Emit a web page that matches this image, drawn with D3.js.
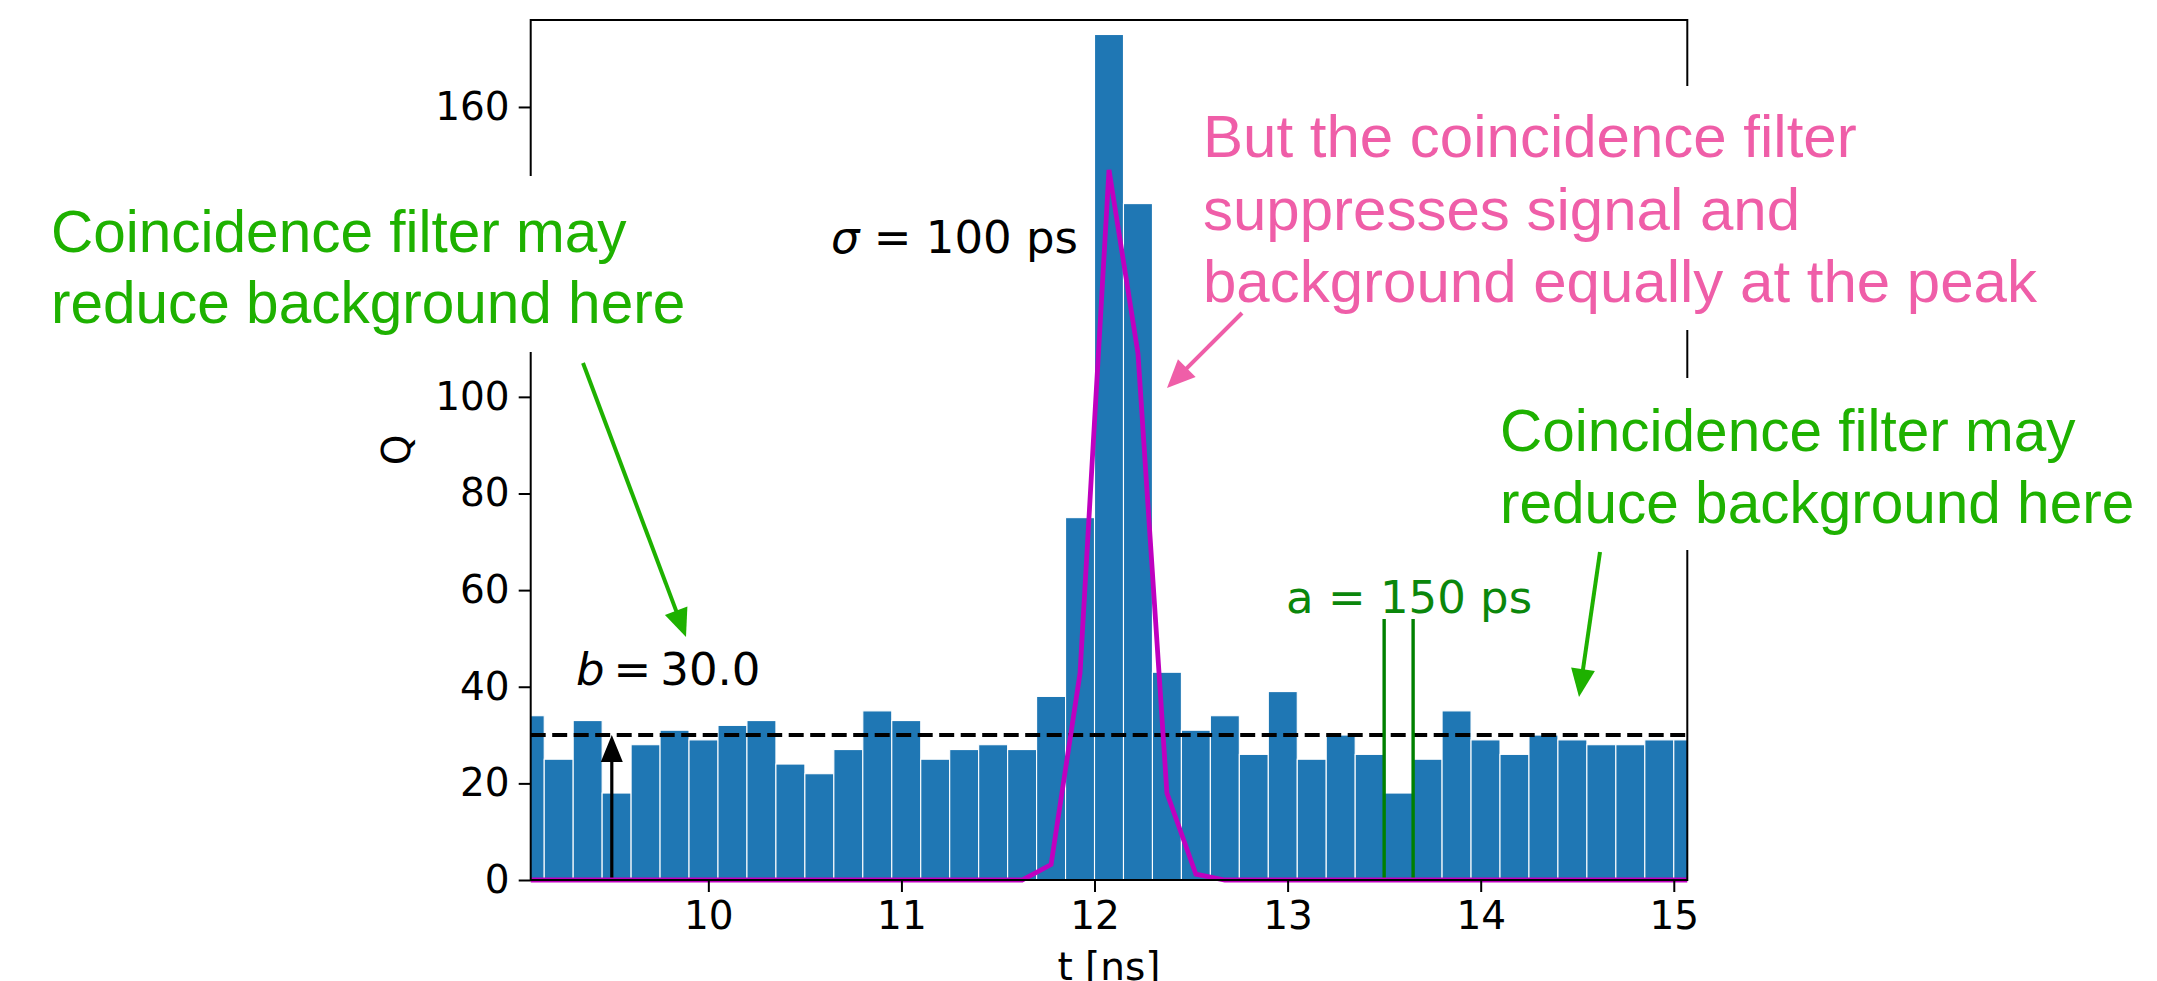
<!DOCTYPE html>
<html>
<head>
<meta charset="utf-8">
<script src="https://cdn.jsdelivr.net/npm/d3@7"></script>
<style>
  html, body { margin: 0; padding: 0; background: #fff; }
  svg { display: block; }
</style>
</head>
<body>
<svg id="chart" width="2157" height="981"></svg>
<script>
// Histogram of arrival times (150 ps bins): left bin edges and counts
const binLeft = [9.00, 9.15, 9.30, 9.45, 9.60, 9.75, 9.90, 10.05, 10.20, 10.35,
                 10.50, 10.65, 10.80, 10.95, 11.10, 11.25, 11.40, 11.55, 11.70, 11.85,
                 12.00, 12.15, 12.30, 12.45, 12.60, 12.75, 12.90, 13.05, 13.20, 13.35,
                 13.50, 13.65, 13.80, 13.95, 14.10, 14.25, 14.40, 14.55, 14.70, 14.85,
                 15.00];
const binWidth = 0.15;
const counts = [34, 25, 33, 18, 28, 31, 29, 32, 33, 24,
                22, 27, 35, 33, 25, 27, 28, 27, 38, 75,
                175, 140, 43, 31, 34, 26, 39, 25, 30, 26,
                18, 25, 35, 29, 26, 30, 29, 28, 28, 29,
                29];

// Signal model sampled at the bin centres
const curveT = [9.075, 9.225, 9.375, 9.525, 9.675, 9.825, 9.975, 10.125, 10.275, 10.425,
                10.575, 10.725, 10.875, 11.025, 11.175, 11.325, 11.475, 11.625, 11.775, 11.925,
                12.075, 12.225, 12.375, 12.525, 12.675, 12.825, 12.975, 13.125, 13.275, 13.425,
                13.575, 13.725, 13.875, 14.025, 14.175, 14.325, 14.475, 14.625, 14.775, 14.925,
                15.075];
const curveQ = [0, 0, 0, 0, 0, 0, 0, 0, 0, 0,
                0, 0, 0, 0, 0, 0, 0, 0, 3.2, 42.8,
                147, 109, 18, 1.2, 0, 0, 0, 0, 0, 0,
                0, 0, 0, 0, 0, 0, 0, 0, 0, 0,
                0];

const background = 30.0;          // b
const backgroundArrowT = 9.5;
const windowEdges = [13.50, 13.65]; // a = 150 ps
const windowTop = 54;

const xTicks = [10, 11, 12, 13, 14, 15];
// 120 and 140 sit under the left callout box, so only these stay visible
const yTicks = [0, 20, 40, 60, 80, 100, 160];
const xDomain = [9.08, 15.07];
const yDomain = [0, 178];

// ---- layout ----
const plot = { left: 530.7, right: 1687.3, top: 20, bottom: 880 };
const tickFont = "'DejaVu Sans', sans-serif";
const noteFont = "'Liberation Sans', Arial, Helvetica, sans-serif";
const green = "#1eb100";
const pink = "#ef5ea8";

const svg = d3.select("#chart");
const x = d3.scaleLinear().domain(xDomain).range([plot.left, plot.right]);
const y = d3.scaleLinear().domain(yDomain).range([plot.bottom, plot.top]);

svg.append("defs").append("clipPath").attr("id", "plotClip")
  .append("rect")
  .attr("x", plot.left).attr("y", plot.top)
  .attr("width", plot.right - plot.left).attr("height", plot.bottom - plot.top + 4);

const inner = svg.append("g").attr("clip-path", "url(#plotClip)");

// bars
inner.append("g").selectAll("rect")
  .data(binLeft.map((t, i) => ({ t, q: counts[i] })))
  .join("rect")
  .attr("x", d => x(d.t))
  .attr("width", d => x(d.t + binWidth) - x(d.t))
  .attr("y", d => y(d.q))
  .attr("height", d => y(0) - y(d.q))
  .attr("fill", "#1f77b4")
  .attr("stroke", "#ffffff")
  .attr("stroke-width", 1.1);

// background level
inner.append("line")
  .attr("x1", plot.left).attr("x2", plot.right)
  .attr("y1", y(background)).attr("y2", y(background))
  .attr("stroke", "#000")
  .attr("stroke-width", 4)
  .attr("stroke-dasharray", "15,6.5");

// arrow from 0 up to b
{
  const ax = x(backgroundArrowT), y0 = y(0), y1 = y(background);
  const headL = 27, headW = 22;
  inner.append("line")
    .attr("x1", ax).attr("x2", ax)
    .attr("y1", y0).attr("y2", y1 + headL - 2)
    .attr("stroke", "#000").attr("stroke-width", 3.2);
  inner.append("path")
    .attr("d", `M${ax},${y1} L${ax - headW / 2},${y1 + headL} L${ax + headW / 2},${y1 + headL} Z`)
    .attr("fill", "#000");
}

// coincidence window
inner.append("g").selectAll("line")
  .data(windowEdges)
  .join("line")
  .attr("x1", d => x(d)).attr("x2", d => x(d))
  .attr("y1", y(0)).attr("y2", y(windowTop))
  .attr("stroke", "#008000")
  .attr("stroke-width", 3.4);

// signal curve
const line = d3.line().x(d => x(d[0])).y(d => y(d[1]));
inner.append("path")
  .datum(curveT.map((t, i) => [t, curveQ[i]]))
  .attr("d", line)
  .attr("fill", "none")
  .attr("stroke", "#bf00bf")
  .attr("stroke-width", 4.8)
  .attr("stroke-linejoin", "miter");

// ---- axes ----
const xAxis = d3.axisBottom(x).tickValues(xTicks).tickFormat(d3.format("d"))
  .tickSize(12).tickSizeOuter(0).tickPadding(9);
const yAxis = d3.axisLeft(y).tickValues(yTicks).tickFormat(d3.format("d"))
  .tickSize(12).tickSizeOuter(0).tickPadding(9);

const gx = svg.append("g").attr("transform", `translate(0,${plot.bottom})`).call(xAxis);
const gy = svg.append("g").attr("transform", `translate(${plot.left},0)`).call(yAxis);
[gx, gy].forEach(g => {
  g.select(".domain").remove();
  g.selectAll(".tick line").attr("stroke", "#000").attr("stroke-width", 2);
  g.selectAll(".tick text").attr("fill", "#000")
    .style("font-family", tickFont).style("font-size", "39px");
});

// frame
svg.append("rect")
  .attr("x", plot.left).attr("y", plot.top)
  .attr("width", plot.right - plot.left).attr("height", plot.bottom - plot.top)
  .attr("fill", "none").attr("stroke", "#000").attr("stroke-width", 2);

// axis titles
svg.append("text")
  .attr("transform", `translate(396,${(plot.top + plot.bottom) / 2}) rotate(-90)`)
  .attr("text-anchor", "middle").attr("dominant-baseline", "central")
  .style("font-family", tickFont).style("font-size", "39px")
  .text("Q");
svg.append("text")
  .attr("x", (plot.left + plot.right) / 2).attr("y", 980)
  .attr("text-anchor", "middle")
  .style("font-family", tickFont).style("font-size", "39px")
  .text("t [ns]");

// in-plot labels
const sigmaLabel = svg.append("text").attr("x", 831).attr("y", 253)
  .style("font-family", tickFont).style("font-size", "45px").attr("fill", "#000");
sigmaLabel.append("tspan").style("font-style", "italic").text("σ");
sigmaLabel.append("tspan").text(" = 100 ps");

const bLabel = svg.append("text").attr("x", 576).attr("y", 685)
  .style("font-family", tickFont).style("font-size", "45px").attr("fill", "#000");
bLabel.append("tspan").style("font-style", "italic").text("b");
bLabel.append("tspan").attr("dx", 9).text("=");
bLabel.append("tspan").attr("dx", 9).text(background.toFixed(1));

svg.append("text").attr("x", 1286).attr("y", 613)
  .style("font-family", tickFont).style("font-size", "45px").attr("fill", "#0b870b")
  .text("a = 150 ps");

// ---- callouts ----
function callout(box, lines, x0, baselines, size, color) {
  svg.append("rect").attr("x", box[0]).attr("y", box[1])
    .attr("width", box[2]).attr("height", box[3]).attr("fill", "#fff");
  const t = svg.append("text").style("font-family", noteFont)
    .style("font-size", size + "px").attr("fill", color);
  lines.forEach((s, i) => t.append("tspan").attr("x", x0).attr("y", baselines[i]).text(s));
}
function arrow(p0, p1, color, width, headL, headW) {
  const dx = p1[0] - p0[0], dy = p1[1] - p0[1];
  const len = Math.hypot(dx, dy), ux = dx / len, uy = dy / len;
  const bx = p1[0] - ux * headL, by = p1[1] - uy * headL;
  svg.append("line").attr("x1", p0[0]).attr("y1", p0[1])
    .attr("x2", bx + ux * 2).attr("y2", by + uy * 2)
    .attr("stroke", color).attr("stroke-width", width);
  svg.append("path")
    .attr("d", `M${p1[0]},${p1[1]} L${bx - uy * headW / 2},${by + ux * headW / 2} L${bx + uy * headW / 2},${by - ux * headW / 2} Z`)
    .attr("fill", color);
}

callout([0, 176, 705, 176], ["Coincidence filter may", "reduce background here"],
        51, [252, 323], 58.5, green);
arrow([583, 363], [686, 637], green, 4, 28, 24);

callout([1490, 378, 667, 172], ["Coincidence filter may", "reduce background here"],
        1500, [451, 523], 58.5, green);
arrow([1600, 552], [1579, 697], green, 4, 28, 24);

callout([1195, 86, 925, 244], ["But the coincidence filter", "suppresses signal and", "background equally at the peak"],
        1203, [157, 230, 302], 60, pink);
arrow([1242, 313], [1167, 388], pink, 4, 28, 25);
</script>
</body>
</html>
